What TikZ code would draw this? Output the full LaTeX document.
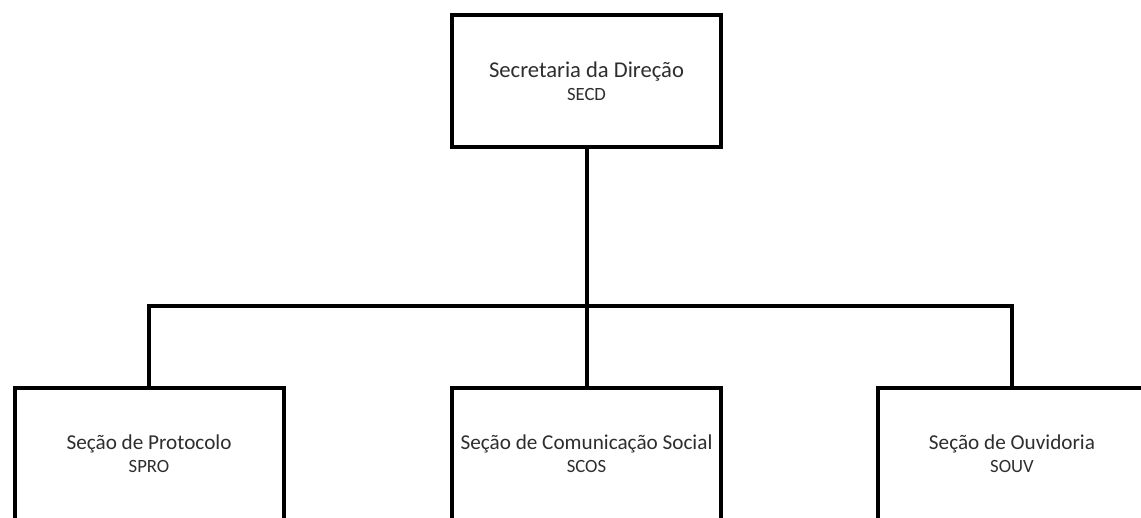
\documentclass[tikz,border=0pt]{standalone}
\usepackage{fontspec}
\setmainfont{Carlito}
\begin{document}
\begin{tikzpicture}[x=1pt,y=-1pt,
  unitbox/.style={draw=black, line width=4pt, fill=white, minimum width=269pt, minimum height=132pt,
    inner sep=0pt, align=center, text=black!82, font=\fontsize{21.2}{23}\selectfont},
  conn/.style={draw=black, line width=4pt},
  abbr/.style={font=\fontsize{18.7}{23}\selectfont}]
\clip (0,0) rectangle (1141,517);
\fill[white] (0,0) rectangle (1141,517);
\node[unitbox, font=\fontsize{22.6}{23}\selectfont] (secd) at (586.5,81) {Secretaria da Direção\\{\fontsize{18.7}{23}\selectfont SECD}};
\node[unitbox] (spro) at (149,454) {Seção de Protocolo\\{\fontsize{18.7}{23}\selectfont SPRO}};
\node[unitbox] (scos) at (586.5,454) {Seção de Comunicação Social\\{\fontsize{18.7}{23}\selectfont SCOS}};
\node[unitbox] (souv) at (1012,454) {Seção de Ouvidoria\\{\fontsize{18.7}{23}\selectfont SOUV}};
\coordinate (bus) at (586.5,306);
\draw[conn] (secd.south) -- (bus);
\draw[conn] (spro.north) |- (bus) -| (souv.north);
\draw[conn] (bus) -- (scos.north);
\end{tikzpicture}
\end{document}
